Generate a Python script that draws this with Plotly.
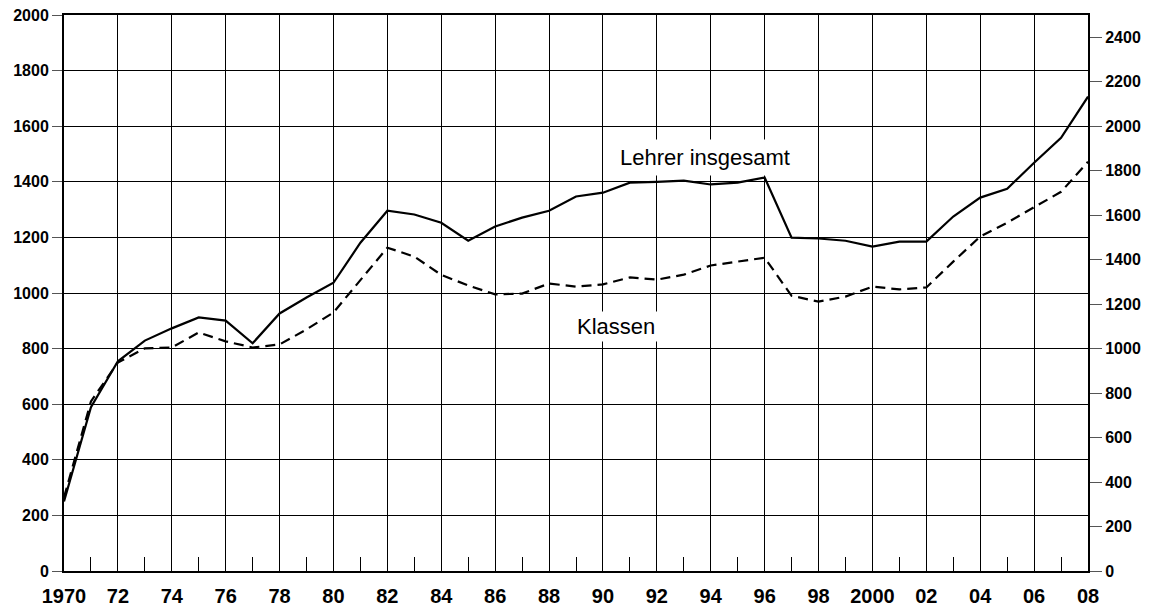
import plotly.graph_objects as go

years = list(range(1970, 2009))
# Lehrer insgesamt (right axis, 0-2500)
lehrer = [313, 736, 943, 1036, 1091, 1140, 1126, 1024, 1158, 1230, 1296, 1476, 1620, 1603, 1566,
          1485, 1549, 1589, 1620, 1684, 1701, 1746, 1750, 1755, 1738, 1746, 1769, 1499, 1495,
          1485, 1459, 1481, 1481, 1594, 1679, 1719, 1836, 1948, 2133]
# Klassen (left axis, 0-2000)
klassen = [265, 610, 750, 801, 804, 858, 826, 804, 815, 869, 930, 1048, 1163, 1131, 1065,
           1027, 995, 998, 1034, 1023, 1031, 1056, 1048, 1066, 1099, 1113, 1127, 990, 969,
           987, 1023, 1013, 1020, 1113, 1203, 1253, 1307, 1364, 1472]

x_tickvals = list(range(1970, 2009, 2))
x_ticktext = ["1970", "72", "74", "76", "78", "80", "82", "84", "86", "88", "90", "92", "94",
              "96", "98", "2000", "02", "04", "06", "08"]
minor_vals = list(range(1971, 2008, 2))
left_ticks = list(range(0, 2001, 200))
right_ticks = list(range(0, 2401, 200))

FONT = "Arial, Liberation Sans, sans-serif"

fig = go.Figure()
fig.add_trace(go.Scatter(x=years, y=klassen, mode="lines", name="Klassen",
                         line=dict(color="black", width=2.2, dash="10px,6px"), yaxis="y"))
fig.add_trace(go.Scatter(x=years, y=lehrer, mode="lines", name="Lehrer insgesamt",
                         line=dict(color="black", width=2.2), yaxis="y2"))

fig.update_layout(
    width=1152, height=609,
    margin=dict(l=64, r=64, t=15, b=38, autoexpand=False),
    paper_bgcolor="white", plot_bgcolor="white",
    showlegend=False,
    font=dict(family=FONT, color="black"),
    xaxis=dict(
        range=[1970, 2008], tickmode="array", tickvals=x_tickvals, ticktext=x_ticktext,
        showgrid=True, gridcolor="black", gridwidth=1,
        showline=True, linecolor="black", linewidth=2, mirror=True,
        ticks="", tickfont=dict(family=FONT, size=20, color="black", weight="bold"),
        ticklabelstandoff=6, automargin=False,
        minor=dict(tickmode="array", tickvals=minor_vals, ticks="inside", ticklen=14,
                   tickcolor="black", tickwidth=1, showgrid=False),
        zeroline=False,
    ),
    yaxis=dict(
        range=[0, 2000], tickmode="array", tickvals=left_ticks,
        showgrid=True, gridcolor="black", gridwidth=1,
        showline=True, linecolor="black", linewidth=2,
        ticks="outside", ticklen=10, tickcolor="#555", tickwidth=1,
        tickfont=dict(family=FONT, size=16, color="black", weight="bold"),
        zeroline=False, automargin=False,
    ),
    yaxis2=dict(
        range=[0, 2500], tickmode="array", tickvals=right_ticks, overlaying="y", side="right",
        showgrid=False, showline=True, linecolor="black", linewidth=2,
        ticks="outside", ticklen=12, tickcolor="#555", tickwidth=1,
        tickfont=dict(family=FONT, size=16, color="black", weight="bold"),
        zeroline=False, automargin=False,
    ),
    annotations=[
        dict(x=1993.8, y=1489, xref="x", yref="y", text="Lehrer insgesamt", showarrow=False,
             font=dict(family=FONT, size=22, color="black"), bgcolor="white", borderpad=5),
        dict(x=1990.5, y=878, xref="x", yref="y", text="Klassen", showarrow=False,
             font=dict(family=FONT, size=22, color="black"), bgcolor="white", borderpad=2),
    ],
)

fig.write_html("out.html", config={"displayModeBar": False},
               post_script="document.body.style.margin='0px';document.body.style.overflow='hidden';")
